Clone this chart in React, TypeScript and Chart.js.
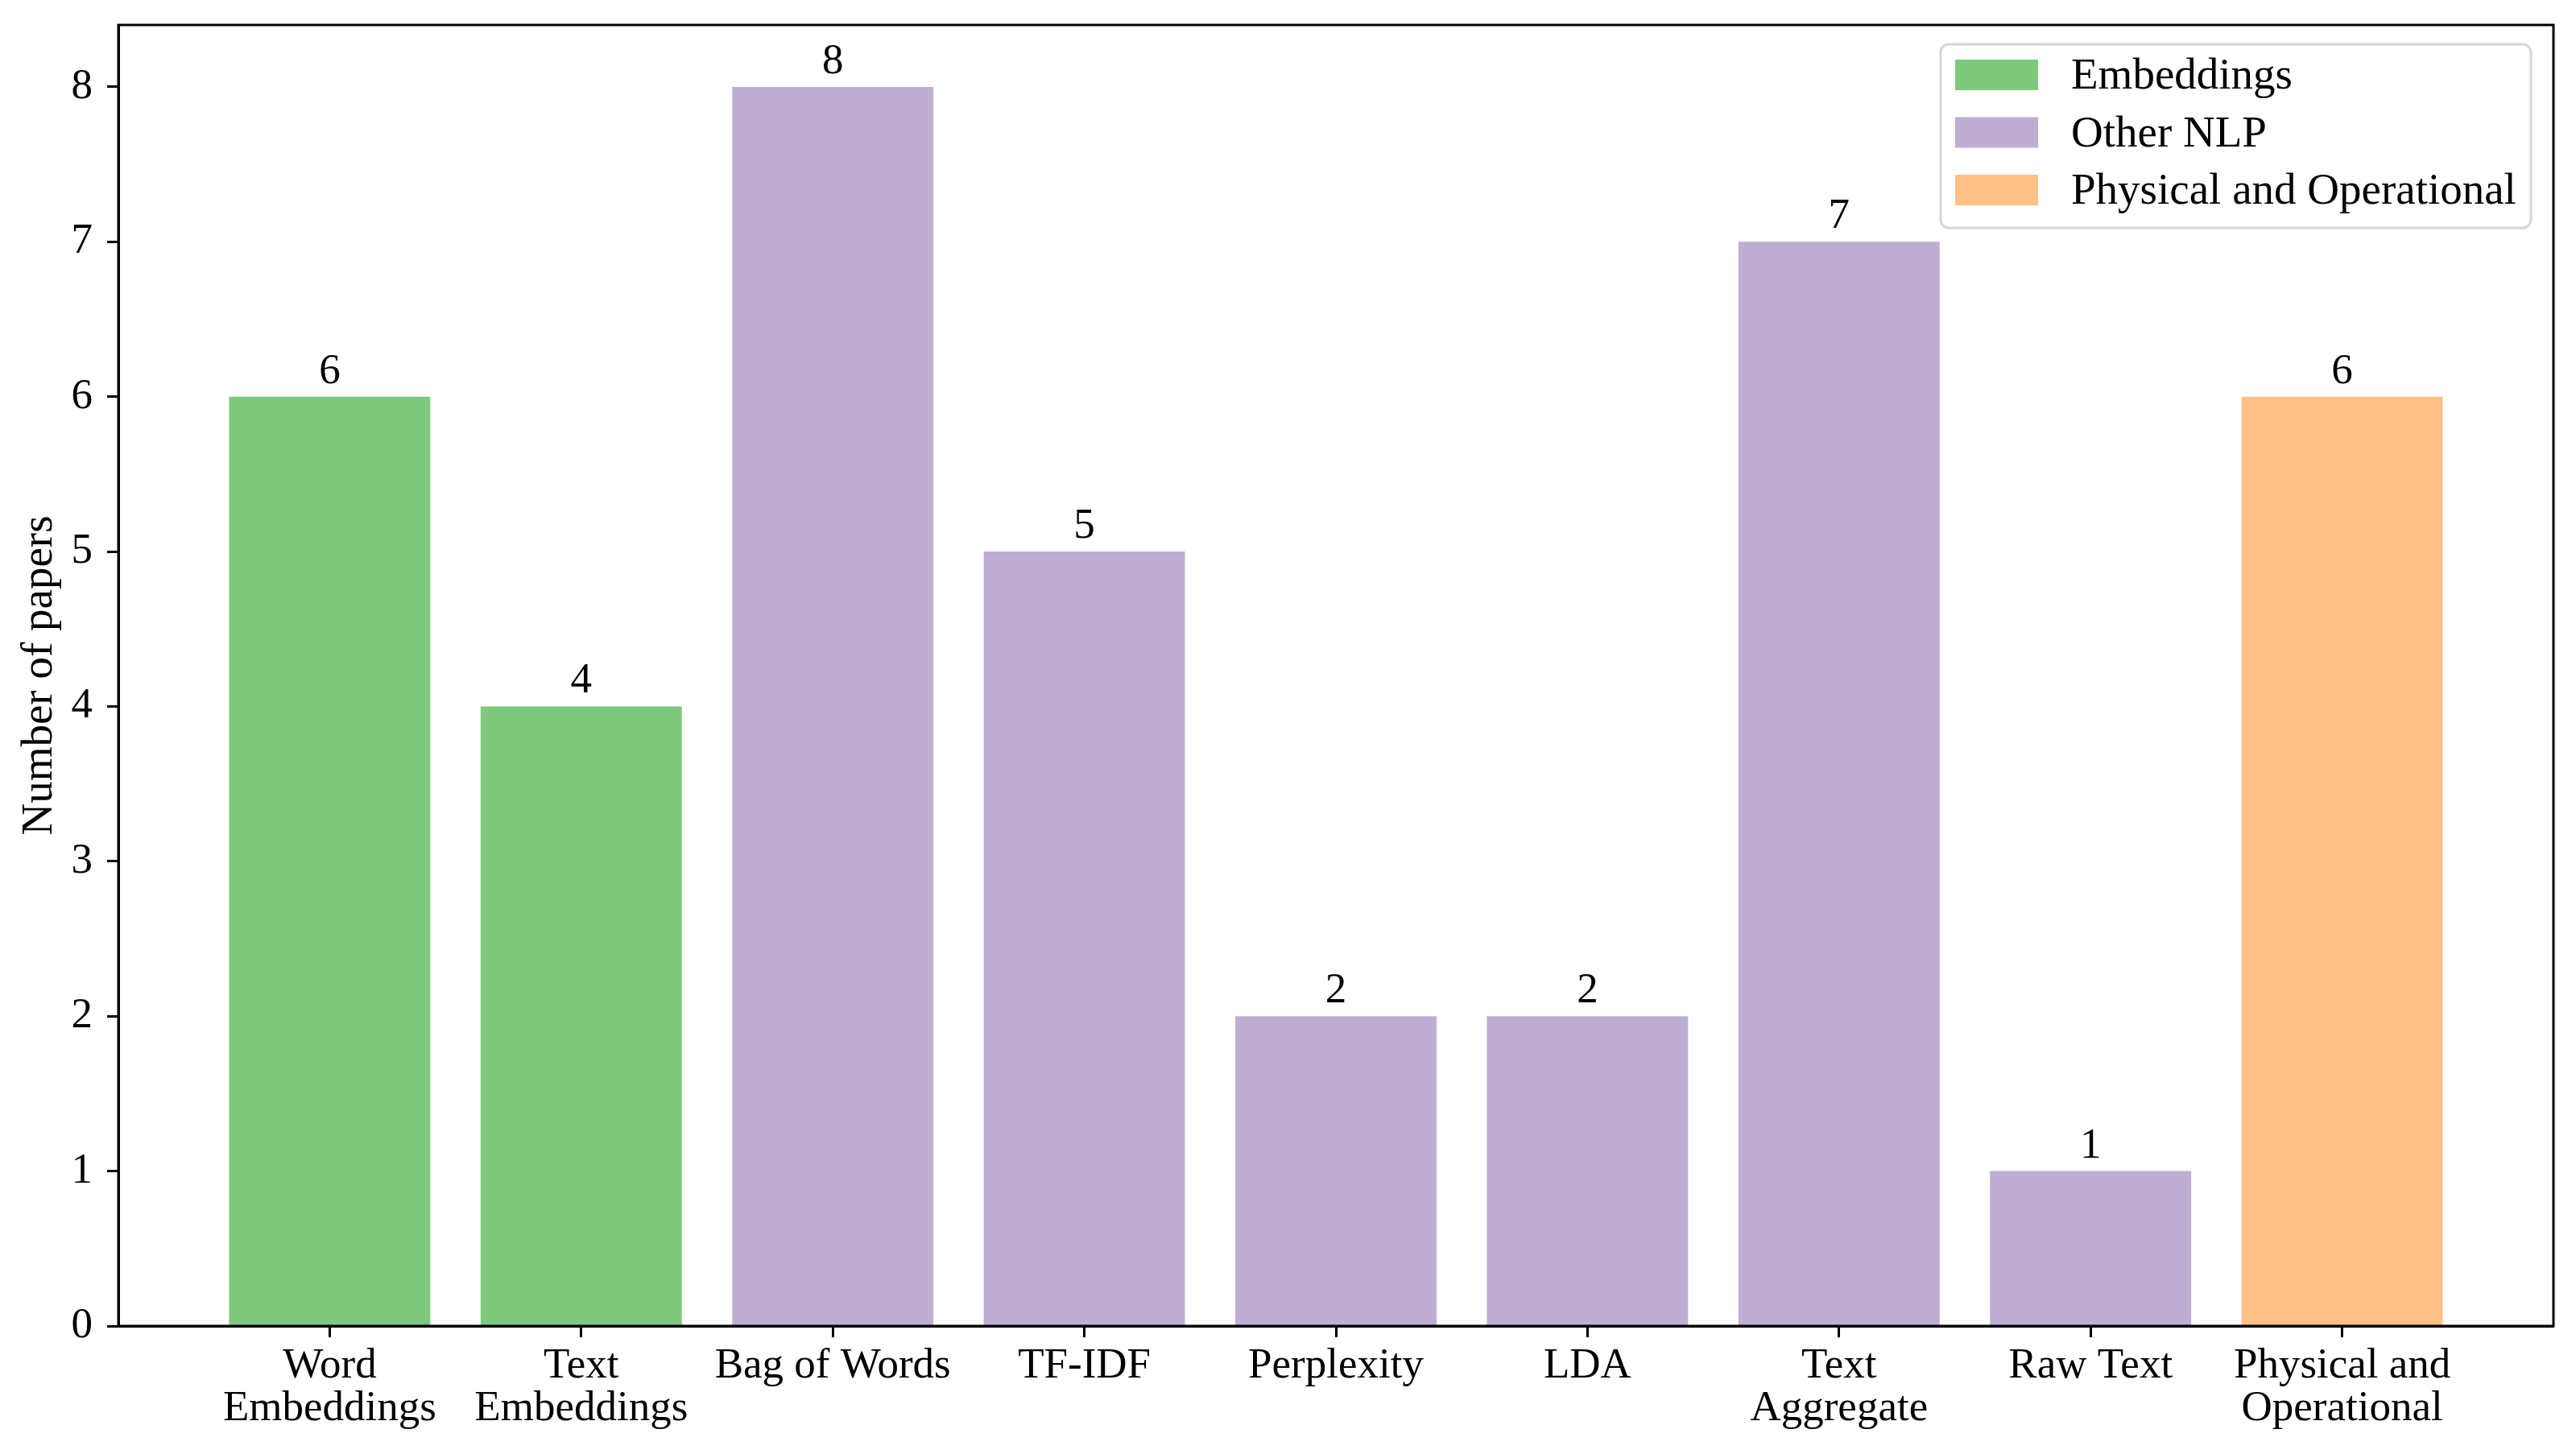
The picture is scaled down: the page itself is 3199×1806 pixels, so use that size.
import { useEffect, useRef } from 'react';
import { Chart, registerables } from 'chart.js';

Chart.register(...registerables);

const categories: (string | string[])[] = [
  ['Word', 'Embeddings'],
  ['Text', 'Embeddings'],
  'Bag of Words',
  'TF-IDF',
  'Perplexity',
  'LDA',
  ['Text', 'Aggregate'],
  'Raw Text',
  ['Physical and', 'Operational'],
];
const paperCounts = [6, 4, 8, 5, 2, 2, 7, 1, 6];
const featureGroups = [
  'Embeddings',
  'Embeddings',
  'Other NLP',
  'Other NLP',
  'Other NLP',
  'Other NLP',
  'Other NLP',
  'Other NLP',
  'Physical and Operational',
];
const groupNames = ['Embeddings', 'Other NLP', 'Physical and Operational'];
const groupColors = ['#7fc97f', '#beaed4', '#fdc086'];
const yTicks = [0, 1, 2, 3, 4, 5, 6, 7, 8];

const FONT = 'Liberation Serif';

// value labels above each bar
const barLabels = {
  id: 'barLabels',
  afterDatasetsDraw(chart: any) {
    const { ctx } = chart;
    const meta = chart.getDatasetMeta(0);
    ctx.save();
    ctx.font = `53px "${FONT}"`;
    ctx.fillStyle = '#000';
    ctx.textAlign = 'center';
    ctx.textBaseline = 'alphabetic';
    meta.data.forEach((bar: any, i: number) => {
      ctx.fillText(String(paperCounts[i]), bar.x, bar.y - 17);
    });
    ctx.restore();
  },
};

// full box around the plot + legend inside the upper right corner
const frameAndLegend = {
  id: 'frameAndLegend',
  afterDraw(chart: any) {
    const { ctx, chartArea } = chart;
    ctx.save();
    ctx.strokeStyle = '#000';
    ctx.lineWidth = 3;
    ctx.strokeRect(chartArea.left, chartArea.top, chartArea.right - chartArea.left, chartArea.bottom - chartArea.top);

    const boxRight = chartArea.right - 28;
    const boxLeft = boxRight - 733;
    const boxTop = chartArea.top + 24;
    const boxH = 228;
    ctx.beginPath();
    ctx.roundRect(boxLeft, boxTop, boxRight - boxLeft, boxH, 10);
    ctx.fillStyle = 'rgba(255,255,255,0.8)';
    ctx.fill();
    ctx.strokeStyle = '#d6d6d6';
    ctx.lineWidth = 3;
    ctx.stroke();

    ctx.font = `55px "${FONT}"`;
    ctx.textAlign = 'left';
    ctx.textBaseline = 'alphabetic';
    groupNames.forEach((name, i) => {
      const cy = boxTop + 38 + i * 71.5;
      ctx.fillStyle = groupColors[i];
      ctx.fillRect(boxLeft + 18, cy - 19, 103, 38);
      ctx.fillStyle = '#000';
      ctx.fillText(name, boxLeft + 162, cy + 17);
    });
    ctx.restore();
  },
};

export default function App() {
  const chartRef = useRef<HTMLCanvasElement>(null);
  const chartInstance = useRef<Chart | null>(null);

  useEffect(() => {
    if (!chartRef.current) return;
    const ctx = chartRef.current.getContext('2d');
    if (!ctx) return;
    if (chartInstance.current) chartInstance.current.destroy();

    chartInstance.current = new Chart(ctx, {
      type: 'bar',
      data: {
        datasets: [
          {
            data: paperCounts.map((v, i) => ({ x: i, y: v })),
            backgroundColor: featureGroups.map((g) => groupColors[groupNames.indexOf(g)]),
            borderWidth: 0,
            categoryPercentage: 1,
            barPercentage: 0.8,
          },
        ],
      },
      options: {
        animation: false,
        responsive: true,
        maintainAspectRatio: false,
        layout: { padding: { top: 31, right: 28, left: 0, bottom: 0 } },
        plugins: {
          legend: { display: false },
          tooltip: { enabled: false },
        },
        scales: {
          x: {
            type: 'linear',
            min: -0.84,
            max: categories.length - 1 + 0.84,
            offset: false,
            afterBuildTicks: (scale: any) => {
              scale.ticks = categories.map((_, i) => ({ value: i }));
            },
            afterFit: (scale: any) => {
              scale.height = 159;
              scale.paddingLeft = 0;
              scale.paddingRight = 0;
            },
            grid: {
              drawOnChartArea: false,
              drawTicks: true,
              tickLength: 14,
              tickWidth: 3,
              tickColor: '#000',
              offset: false,
            },
            border: { display: true, color: '#000', width: 3 },
            ticks: {
              autoSkip: false,
              maxRotation: 0,
              padding: 10,
              color: '#000',
              font: { family: FONT, size: 53, lineHeight: 1.0 },
              callback: (value: any) => categories[value as number] as any,
            },
          },
          y: {
            min: 0,
            max: 8.4,
            afterBuildTicks: (scale: any) => {
              scale.ticks = yTicks.map((v) => ({ value: v }));
            },
            afterFit: (scale: any) => {
              scale.width = 147;
              scale.paddingTop = 0;
              scale.paddingBottom = 0;
            },
            grid: {
              drawOnChartArea: false,
              drawTicks: true,
              tickLength: 14,
              tickWidth: 3,
              tickColor: '#000',
            },
            border: { display: true, color: '#000', width: 3 },
            ticks: {
              padding: 18,
              color: '#000',
              font: { family: FONT, size: 53 },
            },
            title: {
              display: true,
              text: 'Number of papers',
              color: '#000',
              padding: { top: 22, bottom: 0 },
              font: { family: FONT, size: 55, lineHeight: 1.0 },
            },
          },
        },
      },
      plugins: [barLabels, frameAndLegend],
    });

    return () => {
      if (chartInstance.current) {
        chartInstance.current.destroy();
        chartInstance.current = null;
      }
    };
  }, []);

  return (
    <div style={{ position: 'fixed', left: 0, top: 0, width: 3199, height: 1806, background: '#fff' }}>
      <canvas ref={chartRef}></canvas>
    </div>
  );
}
